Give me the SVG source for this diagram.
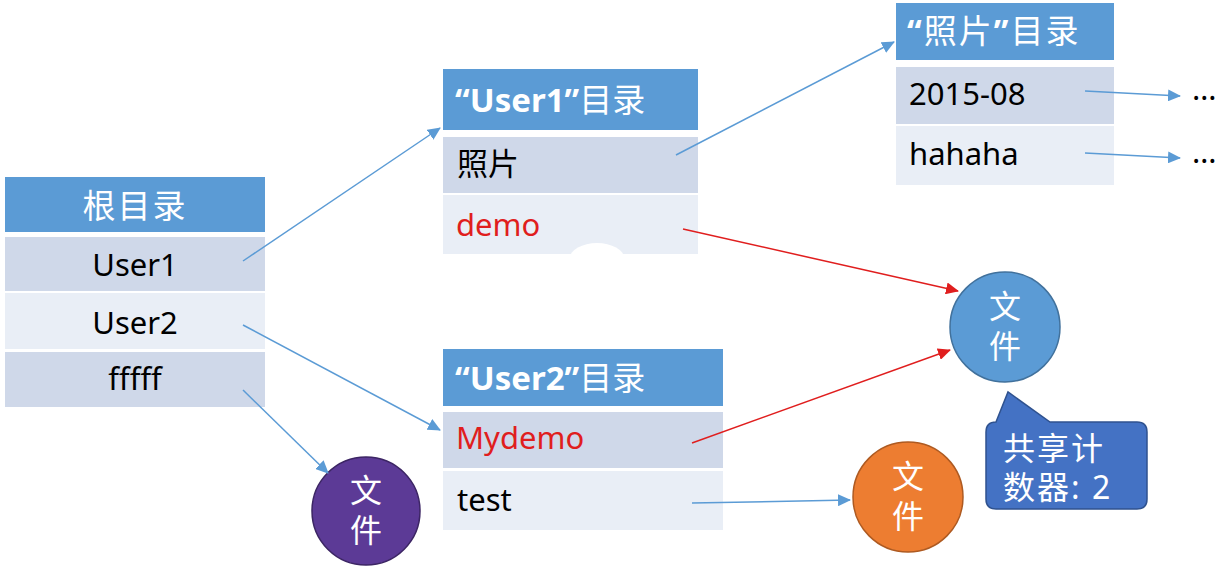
<svg xmlns="http://www.w3.org/2000/svg" width="1220" height="569" viewBox="0 0 1220 569">
<style>
text{font-family:"Noto Sans","Noto Sans CJK SC",sans-serif;}
.hd{fill:#5b9bd5;}
.r1{fill:#cfd8e9;}
.r2{fill:#e9eef6;}
.ht{fill:#fff;font-size:33px;}
.hb{font-weight:bold;}
.bt{fill:#000;font-size:31px;}
.red{fill:#e01e1e;}
.ct{fill:#fff;font-size:32px;text-anchor:middle;}
.cl{fill:#fff;font-size:32px;letter-spacing:2px;}
.bl{stroke:#5b9bd5;stroke-width:1.5;fill:none;marker-end:url(#ab);}
.rd{stroke:#e01e1e;stroke-width:1.5;fill:none;marker-end:url(#ar);}
</style>
<defs>
<marker id="ab" markerUnits="userSpaceOnUse" markerWidth="14" markerHeight="12" refX="12" refY="6" orient="auto"><path d="M0,0 L13,6 L0,12 z" fill="#5b9bd5"/></marker>
<marker id="ar" markerUnits="userSpaceOnUse" markerWidth="14" markerHeight="12" refX="12" refY="6" orient="auto"><path d="M0,0 L13,6 L0,12 z" fill="#e01e1e"/></marker>
</defs>
<rect width="1220" height="569" fill="#fff"/>

<g id="root">
<rect class="hd" x="5" y="177" width="260" height="55"/>
<rect class="r1" x="5" y="237" width="260" height="54"/>
<rect class="r2" x="5" y="293" width="260" height="56"/>
<rect class="r1" x="5" y="352" width="260" height="55"/>
<text class="ht" x="135" y="218" text-anchor="middle" style="font-size:33px;letter-spacing:2px">根目录</text>
<text class="bt" x="135" y="276" text-anchor="middle">User1</text>
<text class="bt" x="135" y="334" text-anchor="middle">User2</text>
<text class="bt" x="135" y="390" text-anchor="middle">fffff</text>
</g>

<g id="user1dir">
<rect class="hd" x="443" y="69" width="255" height="61"/>
<rect class="r1" x="443" y="137" width="255" height="56"/>
<rect class="r2" x="443" y="195" width="255" height="59"/>
<ellipse cx="597" cy="258" rx="27" ry="15" fill="#fff"/>
<text class="ht" x="455" y="112"><tspan class="hb">“User1”</tspan>目录</text>
<text class="bt" x="457" y="175">照片</text>
<text class="bt red" x="456" y="236">demo</text>
</g>

<g id="photodir">
<rect class="hd" x="896" y="3" width="218" height="57"/>
<rect class="r1" x="896" y="67" width="218" height="57"/>
<rect class="r2" x="896" y="126" width="218" height="59"/>
<text class="ht" x="907" y="43" style="letter-spacing:2px"><tspan class="hb">“</tspan>照片<tspan class="hb">”</tspan>目录</text>
<text class="bt" x="909" y="105">2015-08</text>
<text class="bt" x="909" y="165">hahaha</text>
<text class="bt" x="1192" y="100">…</text>
<text class="bt" x="1192" y="163">…</text>
</g>

<g id="user2dir">
<rect class="hd" x="443" y="349" width="280" height="57"/>
<rect class="r1" x="443" y="412" width="280" height="56"/>
<rect class="r2" x="443" y="471" width="280" height="59"/>
<text class="ht" x="455" y="390"><tspan class="hb">“User2”</tspan>目录</text>
<text class="bt red" x="456" y="449">Mydemo</text>
<text class="bt" x="457" y="511">test</text>
</g>

<g id="file-shared">
<circle cx="1005" cy="327" r="55" fill="#5b9bd5" stroke="#41719c" stroke-width="1.5"/>
<text class="ct" x="1005" y="318">文</text>
<text class="ct" x="1005" y="358">件</text>
</g>

<g id="counter">
<path d="M996,422 L1008,392 L1050,422 L1137,422 Q1147,422 1147,432 L1147,499 Q1147,509 1137,509 L996,509 Q986,509 986,499 L986,432 Q986,422 996,422 z" fill="#4472c4" stroke="#2f528f" stroke-width="1.5"/>
<text class="cl" x="1003" y="460">共享计</text>
<text class="cl" x="1003" y="499">数器: 2</text>
</g>

<g id="file-test">
<circle cx="908" cy="497" r="55" fill="#ed7d31" stroke="#ae5a21" stroke-width="1.5"/>
<text class="ct" x="908" y="488">文</text>
<text class="ct" x="908" y="528">件</text>
</g>

<g id="file-fffff">
<circle cx="366" cy="511" r="54" fill="#5c3a96" stroke="#3c2564" stroke-width="1.5"/>
<text class="ct" x="366" y="502">文</text>
<text class="ct" x="366" y="542">件</text>
</g>

<g id="connectors">
<line class="bl" x1="243" y1="261" x2="440" y2="128"/>
<line class="bl" x1="243" y1="325" x2="440" y2="430"/>
<line class="bl" x1="243" y1="390" x2="328" y2="473"/>
<line class="bl" x1="676" y1="155" x2="894" y2="42"/>
<line class="bl" x1="1085" y1="91" x2="1180" y2="96"/>
<line class="bl" x1="1085" y1="153" x2="1180" y2="158"/>
<line class="rd" x1="683" y1="229" x2="958" y2="291"/>
<line class="rd" x1="692" y1="443" x2="950" y2="350"/>
<line class="bl" x1="692" y1="503" x2="850" y2="500"/>
</g>
</svg>
